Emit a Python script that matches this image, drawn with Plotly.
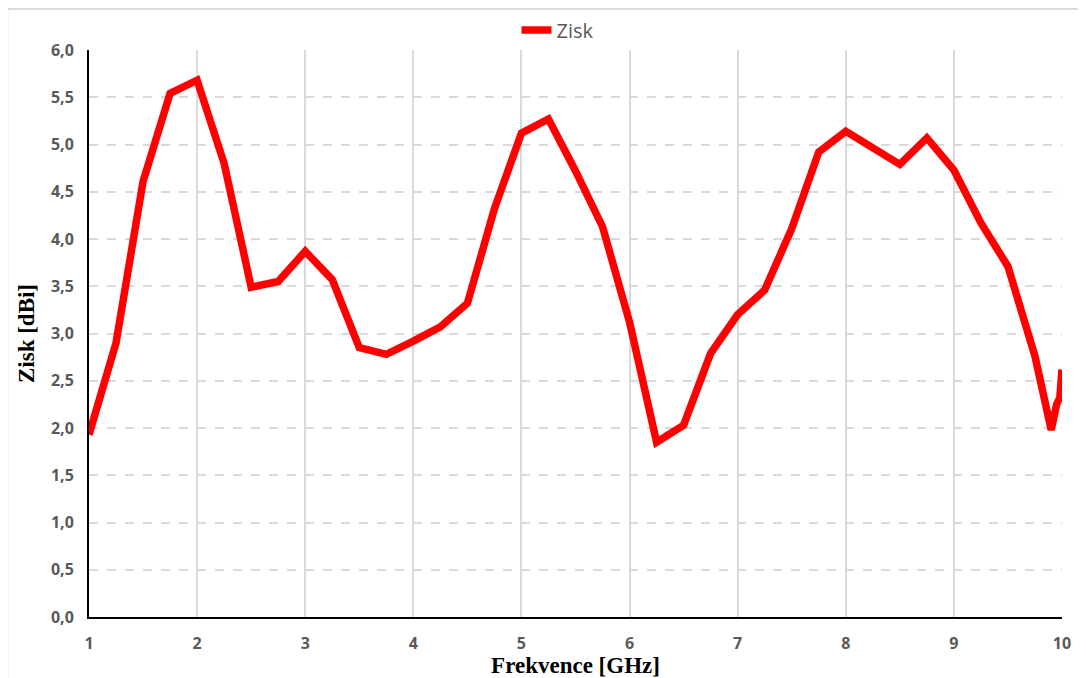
import plotly.graph_objects as go

freq = [1.0, 1.25, 1.5, 1.75, 2.0, 2.25, 2.5, 2.75, 3.0, 3.25, 3.5, 3.75, 4.0, 4.25, 4.5, 4.75,
        5.0, 5.25, 5.5, 5.75, 6.0, 6.25, 6.5, 6.75, 7.0, 7.25, 7.5, 7.75, 8.0, 8.25, 8.5, 8.75,
        9.0, 9.25, 9.5, 9.75, 9.9, 9.95, 9.98, 10.0]
gain = [1.93, 2.90, 4.61, 5.54, 5.68, 4.80, 3.49, 3.55, 3.87, 3.57, 2.85, 2.78, 2.92, 3.07, 3.32, 4.32,
        5.12, 5.27, 4.72, 4.13, 3.12, 1.85, 2.03, 2.79, 3.20, 3.46, 4.11, 4.92, 5.14, 4.96, 4.79, 5.07,
        4.73, 4.17, 3.71, 2.76, 1.98, 2.25, 2.32, 2.62]

x_ticks = [1, 2, 3, 4, 5, 6, 7, 8, 9, 10]
y_ticks = [0.0, 0.5, 1.0, 1.5, 2.0, 2.5, 3.0, 3.5, 4.0, 4.5, 5.0, 5.5, 6.0]

fig = go.Figure()
fig.add_trace(go.Scatter(x=freq, y=gain, mode="lines", name="Zisk",
                         line=dict(color="#FF0000", width=7.5, shape="linear"), cliponaxis=False))

tick_font = dict(family="Open Sans", size=16, color="#595959", weight="bold")
title_font = dict(family="Liberation Serif", size=23, color="#000000")

fig.update_layout(
    width=1078, height=670,
    margin=dict(l=81, r=24, t=42, b=61, autoexpand=False),
    paper_bgcolor="white", plot_bgcolor="white",
    separators=", ",
    showlegend=True,
    legend=dict(orientation="h", x=0.482, xanchor="center", xref="paper",
                y=0.967, yanchor="middle", yref="container",
                font=dict(family="Open Sans", size=20, color="#595959"),
                bgcolor="rgba(0,0,0,0)"),
    xaxis=dict(range=[1, 10], tickvals=x_ticks, ticktext=[str(v) for v in x_ticks],
               showgrid=True, gridcolor="#D9D9D9", gridwidth=2,
               showline=True, linecolor="#000000", linewidth=2,
               ticks="", tickfont=tick_font, zeroline=False, ticklabelstandoff=11,
               title=dict(text="<b>Frekvence [GHz]</b>", font=title_font, standoff=2)),
    yaxis=dict(range=[0, 6], tickvals=y_ticks, tickformat=".1f",
               showgrid=True, gridcolor="#D9D9D9", gridwidth=2, griddash="dash",
               showline=True, linecolor="#000000", linewidth=2,
               ticks="", tickfont=tick_font, zeroline=False, ticklabelstandoff=10,
               title=dict(text="<b>Zisk [dBi]</b>", font=title_font, standoff=10)),
    shapes=[
        dict(type="line", xref="paper", yref="paper", x0=-0.084, x1=1.05, y0=1.0725, y1=1.0725,
             line=dict(color="#D9D9D9", width=2)),
        dict(type="line", xref="paper", yref="paper", x0=-0.084, x1=-0.084, y0=1.0725, y1=-0.2,
             line=dict(color="#D9D9D9", width=2)),
    ],
)

fig.write_html("out.html")
